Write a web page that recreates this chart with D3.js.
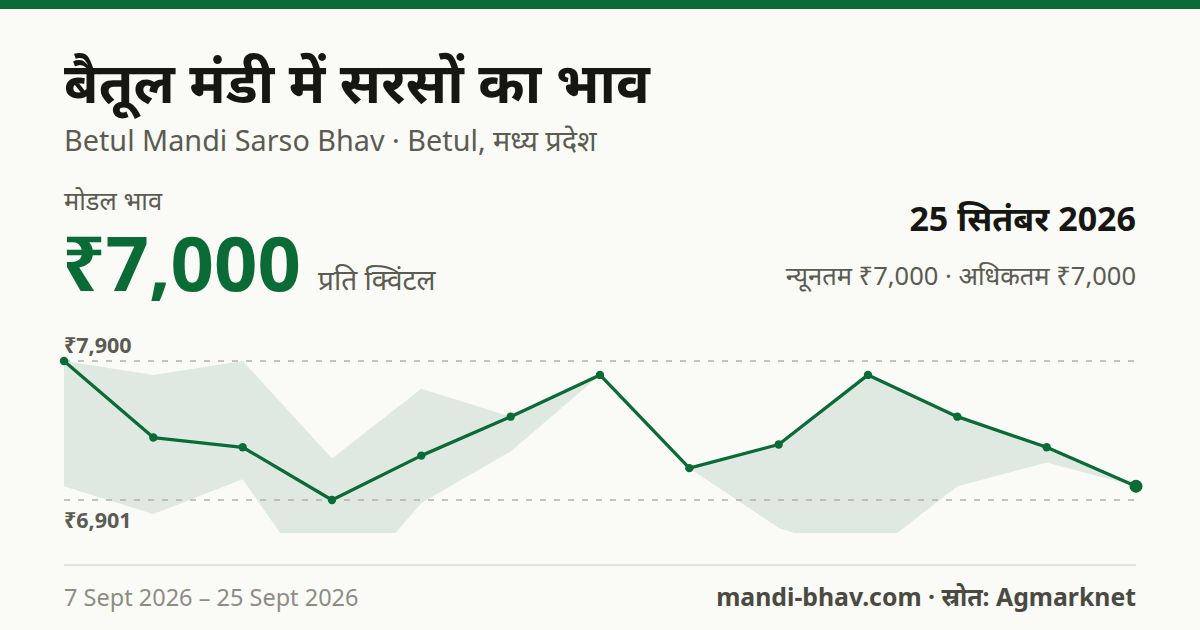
<!DOCTYPE html>
<html><head><meta charset="utf-8">
<script src="https://cdn.jsdelivr.net/npm/d3@7"></script>
<style>
html,body{margin:0;padding:0;background:#fafaf6;}
svg{display:block;}
text{font-family:"Noto Sans","Noto Sans Devanagari","Open Sans",sans-serif;}
</style></head>
<body>
<svg id="c" width="1200" height="630"></svg>
<script>
const dates = ["7 Sept","8 Sept","9 Sept","10 Sept","11 Sept","12 Sept","13 Sept","15 Sept","16 Sept","17 Sept","18 Sept","19 Sept","25 Sept"];
const modalPrice = [7900, 7350, 7280, 6901, 7220, 7500, 7800, 7130, 7300, 7800, 7500, 7280, 7000];
const minPrice   = [7000, 6800, 7050, 6130, 6880, 7250, 7800, 7130, 6700, 6500, 7000, 7170, 7000];
const maxPrice   = [7900, 7800, 7900, 7200, 7700, 7500, 7800, 7130, 7300, 7800, 7500, 7280, 7000];
const titleText = "बैतूल मंडी में सरसों का भाव";
const subtitleText = "Betul Mandi Sarso Bhav · Betul, मध्य प्रदेश";
const modalLabel = "मोडल भाव";
const headlinePrice = "₹7,000";
const unitText = "प्रति क्विंटल";
const dateText = "25 सितंबर 2026";
const rangeText = "न्यूनतम ₹7,000 · अधिकतम ₹7,000";
const periodText = "7 Sept 2026 – 25 Sept 2026";
const sourceText = "mandi-bhav.com · स्रोत: Agmarknet";

const green = "#0b6b36", grey = "#5b5b52";
const svg = d3.select("#c");
svg.append("rect").attr("width",1200).attr("height",630).attr("fill","#fafaf6");
svg.append("rect").attr("width",1200).attr("height",9).attr("fill",green);

svg.append("text").attr("x",64).attr("y",103).attr("font-size",56).attr("font-weight",700).attr("fill","#161612").text(titleText);
svg.append("text").attr("x",64).attr("y",151).attr("font-size",28.8).attr("fill",grey).text(subtitleText);
svg.append("text").attr("x",64).attr("y",210).attr("font-size",25.5).attr("fill",grey).text(modalLabel);
svg.append("text").attr("x",62).attr("y",291).attr("font-size",76).attr("font-weight",700).attr("fill",green).text(headlinePrice);
svg.append("text").attr("x",318).attr("y",290).attr("font-size",28).attr("fill",grey).text(unitText);
svg.append("text").attr("x",1136).attr("y",231).attr("text-anchor","end").attr("font-size",34).attr("font-weight",700).attr("fill","#161612").text(dateText);
svg.append("text").attr("x",1136).attr("y",285).attr("text-anchor","end").attr("font-size",25.5).attr("fill",grey).text(rangeText);

const x = d3.scalePoint().domain(d3.range(dates.length)).range([64,1136]);
const lo = d3.min(modalPrice), hi = d3.max(modalPrice);
const y = d3.scaleLinear().domain([lo,hi]).range([500,361]);

svg.append("defs").append("clipPath").attr("id","clip").append("rect").attr("x",0).attr("y",320).attr("width",1200).attr("height",213);

const area = d3.area().x((d,i)=>x(i)).y0((d,i)=>y(minPrice[i])).y1((d,i)=>y(maxPrice[i]));
svg.append("path").datum(modalPrice).attr("clip-path","url(#clip)").attr("d",area).attr("fill","#dfe9e2");

[hi,lo].forEach(v=>{
  svg.append("line").attr("x1",64).attr("x2",1136).attr("y1",y(v)).attr("y2",y(v))
    .attr("stroke","#b3b3aa").attr("stroke-width",1.3).attr("stroke-dasharray","6,8");
});
svg.append("text").attr("x",64).attr("y",y(hi)-8).attr("font-size",21.5).attr("font-weight",700).attr("fill",grey).text("₹"+d3.format(",")(hi));
svg.append("text").attr("x",64).attr("y",y(lo)+28).attr("font-size",21.5).attr("font-weight",700).attr("fill",grey).text("₹"+d3.format(",")(lo));

const line = d3.line().x((d,i)=>x(i)).y(d=>y(d));
svg.append("path").datum(modalPrice).attr("d",line).attr("fill","none").attr("stroke",green).attr("stroke-width",3.3).attr("stroke-linejoin","round");
svg.selectAll("circle.p").data(modalPrice).join("circle")
  .attr("cx",(d,i)=>x(i)).attr("cy",d=>y(d)).attr("r",(d,i)=>i===modalPrice.length-1?6.5:4.2).attr("fill",green);

svg.append("line").attr("x1",64).attr("x2",1136).attr("y1",565).attr("y2",565).attr("stroke","#e3e3dc").attr("stroke-width",2);
svg.append("text").attr("x",64).attr("y",606).attr("font-size",23.5).attr("fill","#8d8d84").text(periodText);
svg.append("text").attr("x",1136).attr("y",606).attr("text-anchor","end").attr("font-size",24.8).attr("font-weight",700).attr("fill","#4a4a42").text(sourceText);
</script>
</body></html>
